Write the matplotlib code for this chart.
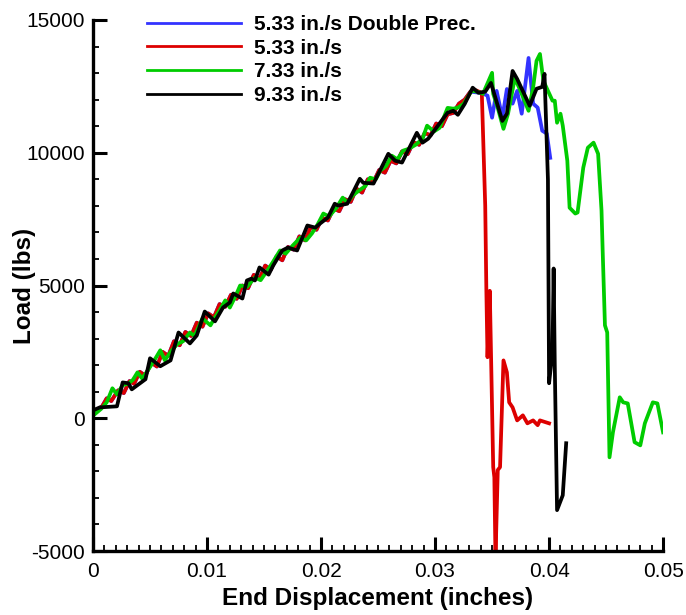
import matplotlib
matplotlib.use("Agg")
import matplotlib.pyplot as plt
from matplotlib.lines import Line2D
from matplotlib.ticker import MultipleLocator

plt.rcParams['font.family'] = ['Liberation Sans', 'DejaVu Sans']
plt.rcParams['axes.unicode_minus'] = False

# 5.33 in./s - subida comun (la curva azul la comparte hasta el pico)
red_rise_x = [0, 0.0008, 0.0012, 0.0016, 0.0022, 0.0027, 0.0032, 0.0036, 0.0041, 0.0046,
              0.0051, 0.0056, 0.0061, 0.0066, 0.0071, 0.0076, 0.0081, 0.0086, 0.0091, 0.0096,
              0.0101, 0.0106, 0.0111, 0.0116, 0.0121, 0.0126, 0.0131, 0.0136, 0.0141, 0.0146,
              0.0151, 0.0156, 0.0161, 0.0166, 0.0171, 0.0176, 0.0181, 0.0186, 0.0191, 0.0196,
              0.0201, 0.0206, 0.0211, 0.0216, 0.0221, 0.0226, 0.0231, 0.0236, 0.0241, 0.0246,
              0.0251, 0.0256, 0.0261, 0.0266, 0.0271, 0.0276, 0.0281, 0.0286, 0.0291, 0.0296,
              0.0301, 0.0306, 0.0311, 0.0316, 0.0321, 0.0326, 0.0331, 0.0336]
red_rise_y = [200, 450, 750, 650, 1050, 950, 1400, 1300, 1750, 1600,
              2100, 1950, 2500, 2350, 2900, 2750, 3250, 3100, 3600, 3450,
              3950, 3800, 4300, 4200, 4650, 4500, 5000, 4900, 5400, 5250,
              5750, 5600, 6100, 5950, 6450, 6350, 6850, 6700, 7200, 7100,
              7550, 7450, 7900, 7800, 8250, 8150, 8650, 8500, 9000, 8900,
              9350, 9250, 9700, 9600, 10050, 9950, 10400, 10300, 10750, 10650,
              11100, 11000, 11450, 11500, 11850, 12000, 12300, 12350]

red_drop_x = [0.0341, 0.0344, 0.0345, 0.0346, 0.0348, 0.0351, 0.0352, 0.0353, 0.0355, 0.0357,
              0.0360, 0.0363, 0.0365, 0.0368, 0.0372, 0.0377, 0.0381, 0.0386, 0.0390, 0.0392,
              0.0400]
red_drop_y = [12250, 8000, 4800, 2300, 4800, -1840, -2220, -5300, -1950, -1840,
              2180, 1730, 600, 410, -80, 110, -190, -80, -260, -80,
              -190]

blue_tail_x = [0.0341, 0.0346, 0.0350, 0.0354, 0.0359, 0.0363, 0.0368, 0.0372, 0.0376, 0.0382,
               0.0386, 0.0390, 0.0394, 0.0398, 0.0401]
blue_tail_y = [12250, 12150, 11320, 12330, 11320, 12400, 11850, 12330, 11470, 13570,
               11850, 11700, 10830, 10720, 9810]

green_x = [0, 0.0007, 0.0012, 0.0017, 0.0021, 0.0026, 0.0031, 0.0035, 0.0039, 0.0043,
           0.0048, 0.0054, 0.0059, 0.0063, 0.0068, 0.0074, 0.0079, 0.0085, 0.0089, 0.0096,
           0.0103, 0.0107, 0.0111, 0.0116, 0.0120, 0.0125, 0.0129, 0.0135, 0.0142, 0.0147,
           0.0153, 0.0158, 0.0164, 0.0169, 0.0175, 0.0182, 0.0187, 0.0192, 0.0197, 0.0202,
           0.0207, 0.0213, 0.0219, 0.0223, 0.0228, 0.0234, 0.0239, 0.0243, 0.0248, 0.0252,
           0.0257, 0.0262, 0.0267, 0.0272, 0.0277, 0.0283, 0.0289, 0.0293, 0.0299, 0.0304,
           0.0311, 0.0316, 0.0320, 0.0325, 0.0332, 0.0337, 0.0342, 0.0350, 0.0351, 0.0355,
           0.0360, 0.0364, 0.0370, 0.0376, 0.0382, 0.0386, 0.0389, 0.0392, 0.0395, 0.0403,
           0.0405, 0.0407, 0.0410, 0.0412, 0.0416, 0.0418, 0.0423, 0.0425, 0.0430, 0.0434,
           0.0439, 0.0443, 0.0446, 0.0447, 0.0449, 0.0451, 0.0453, 0.0456, 0.0462, 0.0465,
           0.0469, 0.0475, 0.0480, 0.0484, 0.0491, 0.0495, 0.0500]
green_y = [100, 350, 600, 1130, 900, 1250, 1300, 1450, 1730, 1500,
           1800, 2200, 2560, 2180, 2500, 2800, 2900, 3230, 3100, 3760,
           3500, 3800, 4060, 4440, 4170, 4600, 5000, 4950, 5300, 5200,
           5570, 5900, 6320, 6200, 6500, 6810, 6700, 6960, 7300, 7710,
           7600, 7900, 8310, 8120, 8400, 8600, 8750, 9060, 9000, 9330,
           9500, 9890, 9750, 10080, 10150, 10300, 10530, 11020, 10800, 10940,
           11690, 11660, 11700, 11840, 12330, 12300, 12220, 13010, 12220, 11690,
           10900, 11470, 12820, 12220, 11580, 12450, 13460, 13720, 12710, 11960,
           11960, 11130, 11470, 11020, 9700, 7930, 7710, 7750, 9440, 10190,
           10380, 9960, 7820, 6320, 3500, 3230, -1470, -530, 790, 600,
           560, -900, -1020, -190, 600, 560, -530]

black_x = [0, 0.0006, 0.0021, 0.0026, 0.0031, 0.0034, 0.0046, 0.0050, 0.0059, 0.0068,
           0.0075, 0.0085, 0.0091, 0.0098, 0.0107, 0.0114, 0.0120, 0.0123, 0.0131, 0.0135,
           0.0139, 0.0142, 0.0146, 0.0154, 0.0158, 0.0166, 0.0171, 0.0179, 0.0188, 0.0195,
           0.0199, 0.0206, 0.0212, 0.0215, 0.0223, 0.0234, 0.0237, 0.0246, 0.0259, 0.0265,
           0.0271, 0.0284, 0.0289, 0.0294, 0.0311, 0.0316, 0.0320, 0.0326, 0.0333, 0.0338,
           0.0344, 0.0349, 0.0359, 0.0363, 0.0368, 0.0372, 0.0383, 0.0389, 0.0394, 0.0396,
           0.0399, 0.0400, 0.0403, 0.0404, 0.0405, 0.0407, 0.0412, 0.0415]
black_y = [300, 410, 450, 1350, 1320, 1090, 1470, 2260, 1960, 2180,
           3230, 2820, 3120, 4020, 3650, 4170, 4360, 4700, 4510, 5190,
           5260, 5190, 5680, 5410, 5750, 6320, 6430, 6320, 7260, 7180,
           7330, 7560, 8080, 8010, 8080, 9020, 8870, 8840, 9960, 9700,
           9630, 10750, 10380, 10530, 11510, 11580, 11430, 11840, 12450, 12260,
           12300, 12630, 11200, 11470, 13080, 12780, 11770, 12410, 12480, 12970,
           9000, 1320, 2500, 5640, 2000, -3460, -2900, -940]

blue_x = red_rise_x[:-1] + blue_tail_x
blue_y = red_rise_y[:-1] + blue_tail_y
red_x = red_rise_x + red_drop_x
red_y = red_rise_y + red_drop_y

series = [
    (blue_x, blue_y, '#3333ff', '5.33 in./s Double Prec.'),
    (red_x, red_y, '#dd0000', '5.33 in./s'),
    (green_x, green_y, '#00cc00', '7.33 in./s'),
    (black_x, black_y, 'black', '9.33 in./s'),
]

fig = plt.figure(figsize=(6.86, 6.15), dpi=100)
ax = fig.add_axes([0.1356, 0.104, 0.831, 0.8635])

handles = []
for x, y, c, lab in series:
    ax.plot(x, y, color=c, lw=2.7)
    handles.append(Line2D([0], [0], color=c, lw=2.0, label=lab))

ax.set_xlim(0, 0.05)
ax.set_ylim(-5000, 15000)
ax.set_xticks([0, 0.01, 0.02, 0.03, 0.04, 0.05])
ax.set_xticklabels(['0', '0.01', '0.02', '0.03', '0.04', '0.05'])
ax.xaxis.set_minor_locator(MultipleLocator(0.001))
ax.yaxis.set_major_locator(MultipleLocator(5000))
ax.yaxis.set_minor_locator(MultipleLocator(1000))

for s in ['top', 'right']:
    ax.spines[s].set_visible(False)
for s in ['left', 'bottom']:
    ax.spines[s].set_linewidth(2.4)
ax.tick_params(which='major', direction='in', length=10, width=2.2, labelsize=15)
ax.tick_params(axis='x', which='major', pad=8)
ax.tick_params(axis='y', which='major', pad=6)
ax.tick_params(which='minor', direction='in', length=4.5, width=1.3)

ax.set_xlabel('End Displacement (inches)', fontsize=17.5, fontweight='bold', labelpad=4)
ax.set_ylabel('Load (lbs)', fontsize=17.5, fontweight='bold')
ax.yaxis.set_label_coords(-0.10, 0.5)

ax.legend(handles=handles, loc='upper left', bbox_to_anchor=(0.08, 1.025),
          frameon=False, prop={'size': 15, 'weight': 'bold'},
          handlelength=4.5, handletextpad=0.62, labelspacing=0.22, borderaxespad=0)

fig.savefig('out.png', dpi=100)
